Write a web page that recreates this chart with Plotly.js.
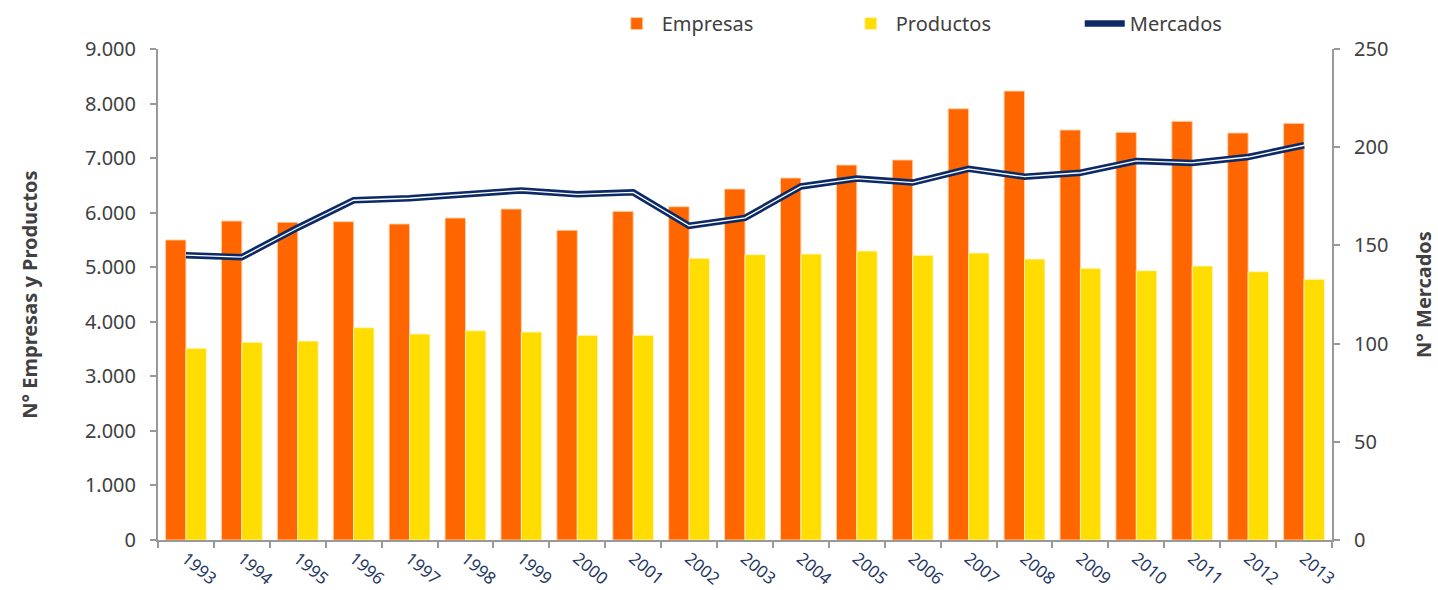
<!DOCTYPE html>
<html>
<head>
<meta charset="utf-8">
<script src="https://cdn.plot.ly/plotly-3.0.1.min.js"></script>
<style>html,body{margin:0;padding:0;background:#fff}#chart{width:1438px;height:590px}</style>
</head>
<body>
<div id="chart"></div>
<script>
const years = ['1993','1994','1995','1996','1997','1998','1999','2000','2001','2002','2003','2004','2005','2006','2007','2008','2009','2010','2011','2012','2013'];
const empresas = [5500,5847,5823,5835,5792,5902,6067,5676,6024,6109,6433,6635,6873,6965,7905,8229,7515,7472,7674,7460,7637];
const productos = [3513,3623,3647,3891,3776,3836,3812,3751,3751,5163,5230,5242,5297,5218,5260,5150,4980,4936,5022,4918,4778];
const mercados = [145,144,159,173,174,176,178,176,177,160,164,180,184,182,189,185,187,193,192,195,201];

const font = 'Noto Sans, Open Sans, sans-serif';
const traces = [
  {type:'bar', name:'Empresas', x:years, y:empresas,
   marker:{color:'#FF6600', line:{color:'rgba(255,210,170,0.9)', width:1}}},
  {type:'bar', name:'Productos', x:years, y:productos,
   marker:{color:'#FFDD00', line:{color:'rgba(255,245,190,0.9)', width:1}}},
  {type:'scatter', mode:'lines', name:'Mercados', x:years, y:mercados, yaxis:'y2',
   line:{color:'#0B2A66', width:6.5}},
  {type:'scatter', mode:'lines', name:'Mercados', x:years, y:mercados, yaxis:'y2',
   line:{color:'#FFFFFF', width:1.3}, showlegend:false, hoverinfo:'skip'}
];
const layout = {
  width:1438, height:590,
  margin:{l:158, r:106, t:49, b:50, autoexpand:false},
  paper_bgcolor:'#fff', plot_bgcolor:'#fff',
  separators:',.',
  barmode:'group', bargap:0.27, bargroupgap:0,
  font:{family:font, color:'#404040', size:20},
  showlegend:true,
  legend:{orientation:'h', x:0.3865, xanchor:'left', y:1.012, yanchor:'bottom',
    font:{family:font, size:20, color:'#404040'}, entrywidth:179, entrywidthmode:'pixels',
    itemwidth:40, bgcolor:'rgba(0,0,0,0)', traceorder:'normal'},
  xaxis:{type:'category', tickson:'boundaries', ticks:'outside', ticklen:6, tickcolor:'#999', tickwidth:2,
    showline:true, linecolor:'#999', linewidth:2, showgrid:false, zeroline:false, automargin:false,
    tickangle:40, tickfont:{family:font, size:17, color:'#1F3864'}},
  yaxis:{range:[0,9000], dtick:1000, tickformat:',d', ticks:'outside', ticklen:6, tickcolor:'#999', tickwidth:2,
    showline:true, linecolor:'#999', linewidth:2, showgrid:false, zeroline:false, automargin:false,
    ticklabelstandoff:10, tickfont:{family:font, size:20, color:'#404040'},
    title:{text:'<b>N° Empresas y Productos</b>', font:{family:font, size:20, color:'#404040'}, standoff:42}},
  yaxis2:{range:[0,250], dtick:50, overlaying:'y', side:'right', ticks:'outside', ticklen:6, tickcolor:'#999', tickwidth:2,
    showline:true, linecolor:'#999', linewidth:2, showgrid:false, zeroline:false, automargin:false,
    ticklabelstandoff:10, tickfont:{family:font, size:20, color:'#404040'},
    title:{text:'<b>N° Mercados</b>', font:{family:font, size:20, color:'#404040'}, standoff:30}}
};
Plotly.newPlot('chart', traces, layout, {displayModeBar:false, staticPlot:true});
</script>
</body>
</html>
